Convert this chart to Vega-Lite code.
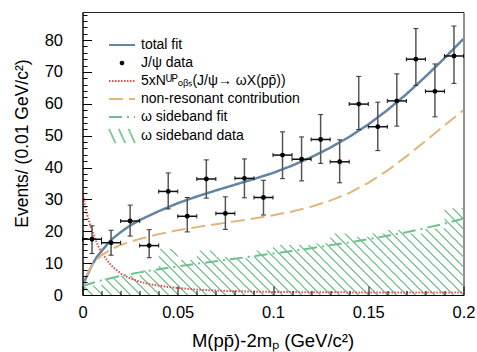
{
  "$schema": "https://vega.github.io/schema/vega-lite/v6.json",
  "width": 381,
  "height": 283,
  "autosize": {"type": "none"},
  "padding": {"left": 82.5, "top": 12, "right": 13.5, "bottom": 57},
  "background": "white",
  "config": {
    "view": {"stroke": "#222", "strokeWidth": 1},
    "legend": {
      "orient": "none",
      "legendX": 28.5,
      "legendY": 22,
      "labelFont": "Liberation Sans",
      "labelFontSize": 14,
      "labelColor": "#000",
      "labelLimit": 400,
      "labelOffset": 8,
      "symbolSize": 400,
      "symbolStrokeWidth": 2,
      "rowPadding": 0,
      "padding": 0
    }
  },
  "datasets": {
    "points": [
      {"x": 0.005, "x0": 0.0, "x1": 0.01, "y": 17.5, "lo": 13.0, "hi": 21.7},
      {"x": 0.015, "x0": 0.01, "x1": 0.02, "y": 16.4, "lo": 12.5, "hi": 20.3},
      {"x": 0.025, "x0": 0.02, "x1": 0.03, "y": 23.2, "lo": 18.5, "hi": 28.2},
      {"x": 0.035, "x0": 0.03, "x1": 0.04, "y": 15.5, "lo": 11.7, "hi": 20.5},
      {"x": 0.045, "x0": 0.04, "x1": 0.05, "y": 32.5, "lo": 27.0, "hi": 38.3},
      {"x": 0.055, "x0": 0.05, "x1": 0.06, "y": 24.7, "lo": 19.8, "hi": 30.6},
      {"x": 0.065, "x0": 0.06, "x1": 0.07, "y": 36.4, "lo": 30.4, "hi": 42.4},
      {"x": 0.075, "x0": 0.07, "x1": 0.08, "y": 25.6, "lo": 20.6, "hi": 30.8},
      {"x": 0.085, "x0": 0.08, "x1": 0.09, "y": 36.6, "lo": 30.5, "hi": 42.7},
      {"x": 0.095, "x0": 0.09, "x1": 0.1, "y": 30.6, "lo": 25.1, "hi": 36.0},
      {"x": 0.105, "x0": 0.1, "x1": 0.11, "y": 43.9, "lo": 36.5, "hi": 51.2},
      {"x": 0.115, "x0": 0.11, "x1": 0.12, "y": 42.6, "lo": 35.8, "hi": 49.6},
      {"x": 0.125, "x0": 0.12, "x1": 0.13, "y": 48.8, "lo": 41.3, "hi": 56.6},
      {"x": 0.135, "x0": 0.13, "x1": 0.14, "y": 41.8, "lo": 35.2, "hi": 48.7},
      {"x": 0.145, "x0": 0.14, "x1": 0.15, "y": 59.9, "lo": 51.9, "hi": 68.6},
      {"x": 0.155, "x0": 0.15, "x1": 0.16, "y": 52.8, "lo": 45.3, "hi": 60.5},
      {"x": 0.165, "x0": 0.16, "x1": 0.17, "y": 60.9, "lo": 53.0, "hi": 69.4},
      {"x": 0.175, "x0": 0.17, "x1": 0.18, "y": 74.0, "lo": 65.8, "hi": 83.6},
      {"x": 0.185, "x0": 0.18, "x1": 0.19, "y": 63.9, "lo": 55.9, "hi": 72.5},
      {"x": 0.195, "x0": 0.19, "x1": 0.2, "y": 75.0, "lo": 66.4, "hi": 84.4}
    ],
    "side": [
      {"x": 0.0, "v": 3.0}, {"x": 0.01, "v": 5.2}, {"x": 0.02, "v": 6.0}, {"x": 0.03, "v": 7.8},
      {"x": 0.04, "v": 14.5}, {"x": 0.05, "v": 11.0}, {"x": 0.06, "v": 14.0}, {"x": 0.07, "v": 12.0},
      {"x": 0.08, "v": 11.5}, {"x": 0.09, "v": 14.0}, {"x": 0.1, "v": 15.7}, {"x": 0.11, "v": 15.7},
      {"x": 0.12, "v": 16.2}, {"x": 0.13, "v": 19.3}, {"x": 0.14, "v": 18.3}, {"x": 0.15, "v": 19.3},
      {"x": 0.16, "v": 20.4}, {"x": 0.17, "v": 19.3}, {"x": 0.18, "v": 20.9}, {"x": 0.19, "v": 27.2},
      {"x": 0.2, "v": 27.2}
    ],
    "curves": [
      {"series": "total fit", "x": 0.0, "y": 0.5},
      {"series": "total fit", "x": 0.001, "y": 4.2},
      {"series": "total fit", "x": 0.002, "y": 5.6},
      {"series": "total fit", "x": 0.003, "y": 6.9},
      {"series": "total fit", "x": 0.005, "y": 9.4},
      {"series": "total fit", "x": 0.0075, "y": 11.9},
      {"series": "total fit", "x": 0.01, "y": 13.8},
      {"series": "total fit", "x": 0.015, "y": 17.3},
      {"series": "total fit", "x": 0.02, "y": 19.7},
      {"series": "total fit", "x": 0.025, "y": 21.8},
      {"series": "total fit", "x": 0.03, "y": 23.5},
      {"series": "total fit", "x": 0.04, "y": 26.3},
      {"series": "total fit", "x": 0.05, "y": 28.8},
      {"series": "total fit", "x": 0.06, "y": 30.9},
      {"series": "total fit", "x": 0.07, "y": 32.8},
      {"series": "total fit", "x": 0.08, "y": 34.6},
      {"series": "total fit", "x": 0.09, "y": 36.4},
      {"series": "total fit", "x": 0.1, "y": 38.3},
      {"series": "total fit", "x": 0.11, "y": 40.6},
      {"series": "total fit", "x": 0.12, "y": 43.2},
      {"series": "total fit", "x": 0.13, "y": 46.2},
      {"series": "total fit", "x": 0.14, "y": 49.6},
      {"series": "total fit", "x": 0.15, "y": 53.5},
      {"series": "total fit", "x": 0.16, "y": 58.0},
      {"series": "total fit", "x": 0.17, "y": 63.0},
      {"series": "total fit", "x": 0.18, "y": 68.5},
      {"series": "total fit", "x": 0.19, "y": 74.3},
      {"series": "total fit", "x": 0.2, "y": 80.4},
      {"series": "5xNᵁᴾₒᵦₛ(J/ψ→ ωX(pp̄))", "x": 0.0, "y": 32.5},
      {"series": "5xNᵁᴾₒᵦₛ(J/ψ→ ωX(pp̄))", "x": 0.001, "y": 29.0},
      {"series": "5xNᵁᴾₒᵦₛ(J/ψ→ ωX(pp̄))", "x": 0.002, "y": 26.3},
      {"series": "5xNᵁᴾₒᵦₛ(J/ψ→ ωX(pp̄))", "x": 0.003, "y": 24.0},
      {"series": "5xNᵁᴾₒᵦₛ(J/ψ→ ωX(pp̄))", "x": 0.004, "y": 22.0},
      {"series": "5xNᵁᴾₒᵦₛ(J/ψ→ ωX(pp̄))", "x": 0.005, "y": 20.4},
      {"series": "5xNᵁᴾₒᵦₛ(J/ψ→ ωX(pp̄))", "x": 0.0065, "y": 17.8},
      {"series": "5xNᵁᴾₒᵦₛ(J/ψ→ ωX(pp̄))", "x": 0.008, "y": 15.6},
      {"series": "5xNᵁᴾₒᵦₛ(J/ψ→ ωX(pp̄))", "x": 0.01, "y": 13.3},
      {"series": "5xNᵁᴾₒᵦₛ(J/ψ→ ωX(pp̄))", "x": 0.012, "y": 11.6},
      {"series": "5xNᵁᴾₒᵦₛ(J/ψ→ ωX(pp̄))", "x": 0.014, "y": 10.0},
      {"series": "5xNᵁᴾₒᵦₛ(J/ψ→ ωX(pp̄))", "x": 0.017, "y": 8.2},
      {"series": "5xNᵁᴾₒᵦₛ(J/ψ→ ωX(pp̄))", "x": 0.0207, "y": 6.5},
      {"series": "5xNᵁᴾₒᵦₛ(J/ψ→ ωX(pp̄))", "x": 0.025, "y": 5.2},
      {"series": "5xNᵁᴾₒᵦₛ(J/ψ→ ωX(pp̄))", "x": 0.03, "y": 4.2},
      {"series": "5xNᵁᴾₒᵦₛ(J/ψ→ ωX(pp̄))", "x": 0.035, "y": 3.4},
      {"series": "5xNᵁᴾₒᵦₛ(J/ψ→ ωX(pp̄))", "x": 0.044, "y": 2.6},
      {"series": "5xNᵁᴾₒᵦₛ(J/ψ→ ωX(pp̄))", "x": 0.05, "y": 2.2},
      {"series": "5xNᵁᴾₒᵦₛ(J/ψ→ ωX(pp̄))", "x": 0.06, "y": 1.7},
      {"series": "5xNᵁᴾₒᵦₛ(J/ψ→ ωX(pp̄))", "x": 0.07, "y": 1.4},
      {"series": "5xNᵁᴾₒᵦₛ(J/ψ→ ωX(pp̄))", "x": 0.087, "y": 1.1},
      {"series": "5xNᵁᴾₒᵦₛ(J/ψ→ ωX(pp̄))", "x": 0.1, "y": 0.95},
      {"series": "5xNᵁᴾₒᵦₛ(J/ψ→ ωX(pp̄))", "x": 0.125, "y": 0.85},
      {"series": "5xNᵁᴾₒᵦₛ(J/ψ→ ωX(pp̄))", "x": 0.15, "y": 0.8},
      {"series": "5xNᵁᴾₒᵦₛ(J/ψ→ ωX(pp̄))", "x": 0.2, "y": 0.75},
      {"series": "non-resonant contribution", "x": 0.0, "y": 0.0},
      {"series": "non-resonant contribution", "x": 0.001, "y": 3.5},
      {"series": "non-resonant contribution", "x": 0.003, "y": 7.3},
      {"series": "non-resonant contribution", "x": 0.006, "y": 10.3},
      {"series": "non-resonant contribution", "x": 0.01, "y": 12.5},
      {"series": "non-resonant contribution", "x": 0.015, "y": 14.3},
      {"series": "non-resonant contribution", "x": 0.02, "y": 15.7},
      {"series": "non-resonant contribution", "x": 0.03, "y": 17.6},
      {"series": "non-resonant contribution", "x": 0.04, "y": 19.1},
      {"series": "non-resonant contribution", "x": 0.05, "y": 20.3},
      {"series": "non-resonant contribution", "x": 0.06, "y": 21.3},
      {"series": "non-resonant contribution", "x": 0.07, "y": 22.2},
      {"series": "non-resonant contribution", "x": 0.08, "y": 23.1},
      {"series": "non-resonant contribution", "x": 0.09, "y": 24.0},
      {"series": "non-resonant contribution", "x": 0.1, "y": 25.0},
      {"series": "non-resonant contribution", "x": 0.11, "y": 26.2},
      {"series": "non-resonant contribution", "x": 0.12, "y": 27.7},
      {"series": "non-resonant contribution", "x": 0.13, "y": 29.6},
      {"series": "non-resonant contribution", "x": 0.14, "y": 32.0},
      {"series": "non-resonant contribution", "x": 0.15, "y": 35.2},
      {"series": "non-resonant contribution", "x": 0.16, "y": 39.0},
      {"series": "non-resonant contribution", "x": 0.17, "y": 43.5},
      {"series": "non-resonant contribution", "x": 0.18, "y": 48.3},
      {"series": "non-resonant contribution", "x": 0.19, "y": 53.2},
      {"series": "non-resonant contribution", "x": 0.2, "y": 58.0},
      {"series": "ω sideband fit", "x": 0.0, "y": 2.8},
      {"series": "ω sideband fit", "x": 0.01, "y": 4.6},
      {"series": "ω sideband fit", "x": 0.02, "y": 6.0},
      {"series": "ω sideband fit", "x": 0.03, "y": 7.1},
      {"series": "ω sideband fit", "x": 0.04, "y": 8.1},
      {"series": "ω sideband fit", "x": 0.05, "y": 9.0},
      {"series": "ω sideband fit", "x": 0.06, "y": 9.8},
      {"series": "ω sideband fit", "x": 0.07, "y": 10.6},
      {"series": "ω sideband fit", "x": 0.08, "y": 11.4},
      {"series": "ω sideband fit", "x": 0.09, "y": 12.2},
      {"series": "ω sideband fit", "x": 0.1, "y": 13.0},
      {"series": "ω sideband fit", "x": 0.11, "y": 13.8},
      {"series": "ω sideband fit", "x": 0.12, "y": 14.7},
      {"series": "ω sideband fit", "x": 0.13, "y": 15.6},
      {"series": "ω sideband fit", "x": 0.14, "y": 16.5},
      {"series": "ω sideband fit", "x": 0.15, "y": 17.5},
      {"series": "ω sideband fit", "x": 0.16, "y": 18.6},
      {"series": "ω sideband fit", "x": 0.17, "y": 19.7},
      {"series": "ω sideband fit", "x": 0.18, "y": 21.0},
      {"series": "ω sideband fit", "x": 0.19, "y": 22.4},
      {"series": "ω sideband fit", "x": 0.2, "y": 24.0}
    ]
  },
  "encoding": {
    "x": {
      "field": "x", "type": "quantitative",
      "scale": {"domain": [0, 0.2], "nice": false, "zero": false},
      "axis": {
        "title": "M(pp̄)-2mₚ (GeV/c²)",
        "values": [0, 0.01, 0.02, 0.03, 0.04, 0.05, 0.06, 0.07, 0.08, 0.09, 0.1, 0.11, 0.12, 0.13, 0.14, 0.15, 0.16, 0.17, 0.18, 0.19, 0.2],
        "format": "~g",
        "labelExpr": "abs(datum.value*20-round(datum.value*20))<1e-6 ? datum.label : ''",
        "tickSize": {"condition": {"test": "abs(datum.value*20-round(datum.value*20))<1e-6", "value": -9}, "value": -4.5},
        "tickColor": "#000", "tickWidth": 1, "domainColor": "#000",
        "labelFont": "Liberation Sans", "labelFontSize": 16.5, "labelColor": "#000", "labelPadding": 18,
        "labelFlush": false, "labelOverlap": false, "grid": false,
        "titleFont": "Liberation Sans", "titleFontSize": 18.5, "titleFontWeight": "normal", "titleColor": "#000",
        "titleX": 190, "titleY": 36, "titleBaseline": "top",
        "zindex": 1
      }
    },
    "y": {
      "field": "y", "type": "quantitative",
      "scale": {"domain": [0, 88.8], "nice": false},
      "axis": {
        "title": "Events/ (0.01 GeV/c²)",
        "values": [0, 2, 4, 6, 8, 10, 12, 14, 16, 18, 20, 22, 24, 26, 28, 30, 32, 34, 36, 38, 40, 42, 44, 46, 48, 50, 52, 54, 56, 58, 60, 62, 64, 66, 68, 70, 72, 74, 76, 78, 80, 82, 84, 86, 88],
        "format": "d",
        "labelExpr": "datum.value % 10 === 0 ? datum.label : ''",
        "tickSize": {"condition": {"test": "datum.value % 10 === 0", "value": -9}, "value": -4.5},
        "tickColor": "#000", "tickWidth": 1, "domainColor": "#000",
        "labelFont": "Liberation Sans", "labelFontSize": 16.5, "labelColor": "#000", "labelPadding": 29,
        "labelFlush": false, "labelOverlap": false, "grid": false,
        "titleFont": "Liberation Sans", "titleFontSize": 17.5, "titleFontWeight": "normal", "titleColor": "#000",
        "titleX": -51, "titleY": 131, "titleAngle": -90, "titleBaseline": "bottom", "titleAlign": "center",
        "zindex": 1
      }
    }
  },
  "layer": [
    {
      "data": {"name": "curves"},
      "transform": [{"filter": "false"}],
      "mark": {"type": "point", "filled": false, "opacity": 1, "strokeWidth": 2, "size": 400},
      "encoding": {
        "color": {
          "field": "series", "type": "nominal",
          "scale": {
            "domain": ["total fit", "J/ψ data", "5xNᵁᴾₒᵦₛ(J/ψ→ ωX(pp̄))", "non-resonant contribution", "ω sideband fit", "ω sideband data"],
            "range": ["#6384a3", "#000000", "#e8494a", "#e3b47a", "#6cc18c", "#84cc9c"]
          },
          "legend": {"title": null}
        },
        "shape": {
          "field": "series", "type": "nominal",
          "scale": {
            "domain": ["total fit", "J/ψ data", "5xNᵁᴾₒᵦₛ(J/ψ→ ωX(pp̄))", "non-resonant contribution", "ω sideband fit", "ω sideband data"],
            "range": ["M-1.3,0H1.3", "M-0.13,0A0.13,0.13,0,1,0,0.13,0A0.13,0.13,0,1,0,-0.13,0", "M-1.3,0H1.3", "M-1.3,0H1.3", "M-1.3,0H1.3", "M-1.3,-0.72L-0.65,0.72M-0.33,-0.72L0.33,0.72M0.65,-0.72L1.3,0.72"]
          },
          "legend": {"title": null}
        },
        "strokeDash": {
          "field": "series", "type": "nominal",
          "scale": {
            "domain": ["total fit", "J/ψ data", "5xNᵁᴾₒᵦₛ(J/ψ→ ωX(pp̄))", "non-resonant contribution", "ω sideband fit", "ω sideband data"],
            "range": [[1, 0], [1, 0], [1.5, 1.5], [14, 6], [13, 5, 2, 5], [1, 0]]
          },
          "legend": {"title": null}
        }
      }
    },
    {
      "data": {"name": "side"},
      "mark": {
        "type": "area", "interpolate": "step-after", "clip": true,
        "fill": {
          "gradient": "linear", "x1": 0, "y1": 1, "x2": 1.1671, "y2": 0.7344,
          "stops": [
            {"offset": 0, "color": "#84cc9c"}, {"offset": 0.0041, "color": "#84cc9c"}, {"offset": 0.0041, "color": "rgba(132,204,156,0)"}, {"offset": 0.0203, "color": "rgba(132,204,156,0)"},
            {"offset": 0.0203, "color": "#84cc9c"}, {"offset": 0.0244, "color": "#84cc9c"}, {"offset": 0.0244, "color": "rgba(132,204,156,0)"}, {"offset": 0.0406, "color": "rgba(132,204,156,0)"},
            {"offset": 0.0406, "color": "#84cc9c"}, {"offset": 0.0447, "color": "#84cc9c"}, {"offset": 0.0447, "color": "rgba(132,204,156,0)"}, {"offset": 0.0609, "color": "rgba(132,204,156,0)"},
            {"offset": 0.0609, "color": "#84cc9c"}, {"offset": 0.065, "color": "#84cc9c"}, {"offset": 0.065, "color": "rgba(132,204,156,0)"}, {"offset": 0.0812, "color": "rgba(132,204,156,0)"},
            {"offset": 0.0812, "color": "#84cc9c"}, {"offset": 0.0853, "color": "#84cc9c"}, {"offset": 0.0853, "color": "rgba(132,204,156,0)"}, {"offset": 0.1015, "color": "rgba(132,204,156,0)"},
            {"offset": 0.1015, "color": "#84cc9c"}, {"offset": 0.1056, "color": "#84cc9c"}, {"offset": 0.1056, "color": "rgba(132,204,156,0)"}, {"offset": 0.1218, "color": "rgba(132,204,156,0)"},
            {"offset": 0.1218, "color": "#84cc9c"}, {"offset": 0.1259, "color": "#84cc9c"}, {"offset": 0.1259, "color": "rgba(132,204,156,0)"}, {"offset": 0.1421, "color": "rgba(132,204,156,0)"},
            {"offset": 0.1421, "color": "#84cc9c"}, {"offset": 0.1462, "color": "#84cc9c"}, {"offset": 0.1462, "color": "rgba(132,204,156,0)"}, {"offset": 0.1624, "color": "rgba(132,204,156,0)"},
            {"offset": 0.1624, "color": "#84cc9c"}, {"offset": 0.1665, "color": "#84cc9c"}, {"offset": 0.1665, "color": "rgba(132,204,156,0)"}, {"offset": 0.1827, "color": "rgba(132,204,156,0)"},
            {"offset": 0.1827, "color": "#84cc9c"}, {"offset": 0.1868, "color": "#84cc9c"}, {"offset": 0.1868, "color": "rgba(132,204,156,0)"}, {"offset": 0.203, "color": "rgba(132,204,156,0)"},
            {"offset": 0.203, "color": "#84cc9c"}, {"offset": 0.2071, "color": "#84cc9c"}, {"offset": 0.2071, "color": "rgba(132,204,156,0)"}, {"offset": 0.2233, "color": "rgba(132,204,156,0)"},
            {"offset": 0.2233, "color": "#84cc9c"}, {"offset": 0.2274, "color": "#84cc9c"}, {"offset": 0.2274, "color": "rgba(132,204,156,0)"}, {"offset": 0.2436, "color": "rgba(132,204,156,0)"},
            {"offset": 0.2436, "color": "#84cc9c"}, {"offset": 0.2477, "color": "#84cc9c"}, {"offset": 0.2477, "color": "rgba(132,204,156,0)"}, {"offset": 0.2639, "color": "rgba(132,204,156,0)"},
            {"offset": 0.2639, "color": "#84cc9c"}, {"offset": 0.268, "color": "#84cc9c"}, {"offset": 0.268, "color": "rgba(132,204,156,0)"}, {"offset": 0.2842, "color": "rgba(132,204,156,0)"},
            {"offset": 0.2842, "color": "#84cc9c"}, {"offset": 0.2883, "color": "#84cc9c"}, {"offset": 0.2883, "color": "rgba(132,204,156,0)"}, {"offset": 0.3045, "color": "rgba(132,204,156,0)"},
            {"offset": 0.3045, "color": "#84cc9c"}, {"offset": 0.3086, "color": "#84cc9c"}, {"offset": 0.3086, "color": "rgba(132,204,156,0)"}, {"offset": 0.3248, "color": "rgba(132,204,156,0)"},
            {"offset": 0.3248, "color": "#84cc9c"}, {"offset": 0.3289, "color": "#84cc9c"}, {"offset": 0.3289, "color": "rgba(132,204,156,0)"}, {"offset": 0.3451, "color": "rgba(132,204,156,0)"},
            {"offset": 0.3451, "color": "#84cc9c"}, {"offset": 0.3492, "color": "#84cc9c"}, {"offset": 0.3492, "color": "rgba(132,204,156,0)"}, {"offset": 0.3654, "color": "rgba(132,204,156,0)"},
            {"offset": 0.3654, "color": "#84cc9c"}, {"offset": 0.3695, "color": "#84cc9c"}, {"offset": 0.3695, "color": "rgba(132,204,156,0)"}, {"offset": 0.3857, "color": "rgba(132,204,156,0)"},
            {"offset": 0.3857, "color": "#84cc9c"}, {"offset": 0.3898, "color": "#84cc9c"}, {"offset": 0.3898, "color": "rgba(132,204,156,0)"}, {"offset": 0.406, "color": "rgba(132,204,156,0)"},
            {"offset": 0.406, "color": "#84cc9c"}, {"offset": 0.4101, "color": "#84cc9c"}, {"offset": 0.4101, "color": "rgba(132,204,156,0)"}, {"offset": 0.4263, "color": "rgba(132,204,156,0)"},
            {"offset": 0.4263, "color": "#84cc9c"}, {"offset": 0.4304, "color": "#84cc9c"}, {"offset": 0.4304, "color": "rgba(132,204,156,0)"}, {"offset": 0.4466, "color": "rgba(132,204,156,0)"},
            {"offset": 0.4466, "color": "#84cc9c"}, {"offset": 0.4507, "color": "#84cc9c"}, {"offset": 0.4507, "color": "rgba(132,204,156,0)"}, {"offset": 0.4669, "color": "rgba(132,204,156,0)"},
            {"offset": 0.4669, "color": "#84cc9c"}, {"offset": 0.471, "color": "#84cc9c"}, {"offset": 0.471, "color": "rgba(132,204,156,0)"}, {"offset": 0.4872, "color": "rgba(132,204,156,0)"},
            {"offset": 0.4872, "color": "#84cc9c"}, {"offset": 0.4913, "color": "#84cc9c"}, {"offset": 0.4913, "color": "rgba(132,204,156,0)"}, {"offset": 0.5075, "color": "rgba(132,204,156,0)"},
            {"offset": 0.5075, "color": "#84cc9c"}, {"offset": 0.5116, "color": "#84cc9c"}, {"offset": 0.5116, "color": "rgba(132,204,156,0)"}, {"offset": 0.5278, "color": "rgba(132,204,156,0)"},
            {"offset": 0.5278, "color": "#84cc9c"}, {"offset": 0.5319, "color": "#84cc9c"}, {"offset": 0.5319, "color": "rgba(132,204,156,0)"}, {"offset": 0.5481, "color": "rgba(132,204,156,0)"},
            {"offset": 0.5481, "color": "#84cc9c"}, {"offset": 0.5522, "color": "#84cc9c"}, {"offset": 0.5522, "color": "rgba(132,204,156,0)"}, {"offset": 0.5684, "color": "rgba(132,204,156,0)"},
            {"offset": 0.5684, "color": "#84cc9c"}, {"offset": 0.5725, "color": "#84cc9c"}, {"offset": 0.5725, "color": "rgba(132,204,156,0)"}, {"offset": 0.5887, "color": "rgba(132,204,156,0)"},
            {"offset": 0.5887, "color": "#84cc9c"}, {"offset": 0.5928, "color": "#84cc9c"}, {"offset": 0.5928, "color": "rgba(132,204,156,0)"}, {"offset": 0.609, "color": "rgba(132,204,156,0)"},
            {"offset": 0.609, "color": "#84cc9c"}, {"offset": 0.6131, "color": "#84cc9c"}, {"offset": 0.6131, "color": "rgba(132,204,156,0)"}, {"offset": 0.6293, "color": "rgba(132,204,156,0)"},
            {"offset": 0.6293, "color": "#84cc9c"}, {"offset": 0.6334, "color": "#84cc9c"}, {"offset": 0.6334, "color": "rgba(132,204,156,0)"}, {"offset": 0.6496, "color": "rgba(132,204,156,0)"},
            {"offset": 0.6496, "color": "#84cc9c"}, {"offset": 0.6537, "color": "#84cc9c"}, {"offset": 0.6537, "color": "rgba(132,204,156,0)"}, {"offset": 0.6699, "color": "rgba(132,204,156,0)"},
            {"offset": 0.6699, "color": "#84cc9c"}, {"offset": 0.674, "color": "#84cc9c"}, {"offset": 0.674, "color": "rgba(132,204,156,0)"}, {"offset": 0.6902, "color": "rgba(132,204,156,0)"},
            {"offset": 0.6902, "color": "#84cc9c"}, {"offset": 0.6943, "color": "#84cc9c"}, {"offset": 0.6943, "color": "rgba(132,204,156,0)"}, {"offset": 0.7105, "color": "rgba(132,204,156,0)"},
            {"offset": 0.7105, "color": "#84cc9c"}, {"offset": 0.7146, "color": "#84cc9c"}, {"offset": 0.7146, "color": "rgba(132,204,156,0)"}, {"offset": 0.7308, "color": "rgba(132,204,156,0)"},
            {"offset": 0.7308, "color": "#84cc9c"}, {"offset": 0.7349, "color": "#84cc9c"}, {"offset": 0.7349, "color": "rgba(132,204,156,0)"}, {"offset": 0.7511, "color": "rgba(132,204,156,0)"},
            {"offset": 0.7511, "color": "#84cc9c"}, {"offset": 0.7552, "color": "#84cc9c"}, {"offset": 0.7552, "color": "rgba(132,204,156,0)"}, {"offset": 0.7714, "color": "rgba(132,204,156,0)"},
            {"offset": 0.7714, "color": "#84cc9c"}, {"offset": 0.7755, "color": "#84cc9c"}, {"offset": 0.7755, "color": "rgba(132,204,156,0)"}, {"offset": 0.7917, "color": "rgba(132,204,156,0)"},
            {"offset": 0.7917, "color": "#84cc9c"}, {"offset": 0.7958, "color": "#84cc9c"}, {"offset": 0.7958, "color": "rgba(132,204,156,0)"}, {"offset": 0.812, "color": "rgba(132,204,156,0)"},
            {"offset": 0.812, "color": "#84cc9c"}, {"offset": 0.8161, "color": "#84cc9c"}, {"offset": 0.8161, "color": "rgba(132,204,156,0)"}, {"offset": 0.8323, "color": "rgba(132,204,156,0)"},
            {"offset": 0.8323, "color": "#84cc9c"}, {"offset": 0.8364, "color": "#84cc9c"}, {"offset": 0.8364, "color": "rgba(132,204,156,0)"}, {"offset": 0.8526, "color": "rgba(132,204,156,0)"},
            {"offset": 0.8526, "color": "#84cc9c"}, {"offset": 0.8567, "color": "#84cc9c"}, {"offset": 0.8567, "color": "rgba(132,204,156,0)"}, {"offset": 0.8729, "color": "rgba(132,204,156,0)"},
            {"offset": 0.8729, "color": "#84cc9c"}, {"offset": 0.877, "color": "#84cc9c"}, {"offset": 0.877, "color": "rgba(132,204,156,0)"}, {"offset": 0.8932, "color": "rgba(132,204,156,0)"},
            {"offset": 0.8932, "color": "#84cc9c"}, {"offset": 0.8973, "color": "#84cc9c"}, {"offset": 0.8973, "color": "rgba(132,204,156,0)"}, {"offset": 0.9135, "color": "rgba(132,204,156,0)"},
            {"offset": 0.9135, "color": "#84cc9c"}, {"offset": 0.9176, "color": "#84cc9c"}, {"offset": 0.9176, "color": "rgba(132,204,156,0)"}, {"offset": 0.9338, "color": "rgba(132,204,156,0)"},
            {"offset": 0.9338, "color": "#84cc9c"}, {"offset": 0.9379, "color": "#84cc9c"}, {"offset": 0.9379, "color": "rgba(132,204,156,0)"}, {"offset": 0.9541, "color": "rgba(132,204,156,0)"},
            {"offset": 0.9541, "color": "#84cc9c"}, {"offset": 0.9582, "color": "#84cc9c"}, {"offset": 0.9582, "color": "rgba(132,204,156,0)"}, {"offset": 0.9744, "color": "rgba(132,204,156,0)"},
            {"offset": 0.9744, "color": "#84cc9c"}, {"offset": 0.9785, "color": "#84cc9c"}, {"offset": 0.9785, "color": "rgba(132,204,156,0)"}, {"offset": 0.9947, "color": "rgba(132,204,156,0)"},
            {"offset": 0.9947, "color": "#84cc9c"}, {"offset": 0.9988, "color": "#84cc9c"}, {"offset": 0.9988, "color": "rgba(132,204,156,0)"}, {"offset": 1, "color": "rgba(132,204,156,0)"}
          ]
        }
      },
      "encoding": {
        "x": {"field": "x", "type": "quantitative"},
        "y": {"field": "v", "type": "quantitative"}
      }
    },
    {
      "data": {"name": "curves"},
      "mark": {"type": "line", "clip": true, "strokeCap": "butt"},
      "encoding": {
        "color": {
          "field": "series", "type": "nominal", "legend": null,
          "scale": {
            "domain": ["total fit", "J/ψ data", "5xNᵁᴾₒᵦₛ(J/ψ→ ωX(pp̄))", "non-resonant contribution", "ω sideband fit", "ω sideband data"],
            "range": ["#6384a3", "#000000", "#e8494a", "#e3b47a", "#6cc18c", "#84cc9c"]
          }
        },
        "strokeDash": {
          "field": "series", "type": "nominal", "legend": null,
          "scale": {
            "domain": ["total fit", "J/ψ data", "5xNᵁᴾₒᵦₛ(J/ψ→ ωX(pp̄))", "non-resonant contribution", "ω sideband fit", "ω sideband data"],
            "range": [[1, 0], [1, 0], [1.5, 1.5], [14, 6], [13, 5, 2, 5], [1, 0]]
          }
        },
        "strokeWidth": {"condition": {"test": "datum.series === 'total fit'", "value": 2.5}, "value": 2}
      }
    },
    {
      "data": {"name": "points"},
      "mark": {"type": "rule", "color": "#555", "strokeWidth": 1.5},
      "encoding": {
        "y": {"field": "lo", "type": "quantitative"},
        "y2": {"field": "hi"}
      }
    },
    {
      "data": {"name": "points"},
      "mark": {"type": "rule", "color": "#111", "strokeWidth": 1.5},
      "encoding": {
        "x": {"field": "x0", "type": "quantitative"},
        "x2": {"field": "x1"}
      }
    },
    {
      "data": {"name": "points"},
      "mark": {"type": "tick", "orient": "horizontal", "size": 5, "thickness": 1, "color": "#333", "opacity": 1},
      "encoding": {"y": {"field": "hi", "type": "quantitative"}}
    },
    {
      "data": {"name": "points"},
      "mark": {"type": "tick", "orient": "horizontal", "size": 5, "thickness": 1, "color": "#333", "opacity": 1},
      "encoding": {"y": {"field": "lo", "type": "quantitative"}}
    },
    {
      "data": {"name": "points"},
      "mark": {"type": "tick", "orient": "vertical", "size": 4, "thickness": 1, "color": "#111", "opacity": 1},
      "encoding": {"x": {"field": "x0", "type": "quantitative"}}
    },
    {
      "data": {"name": "points"},
      "mark": {"type": "tick", "orient": "vertical", "size": 4, "thickness": 1, "color": "#111", "opacity": 1},
      "encoding": {"x": {"field": "x1", "type": "quantitative"}}
    },
    {
      "data": {"name": "points"},
      "mark": {"type": "point", "filled": true, "color": "#000", "size": 24, "opacity": 1}
    }
  ]
}
